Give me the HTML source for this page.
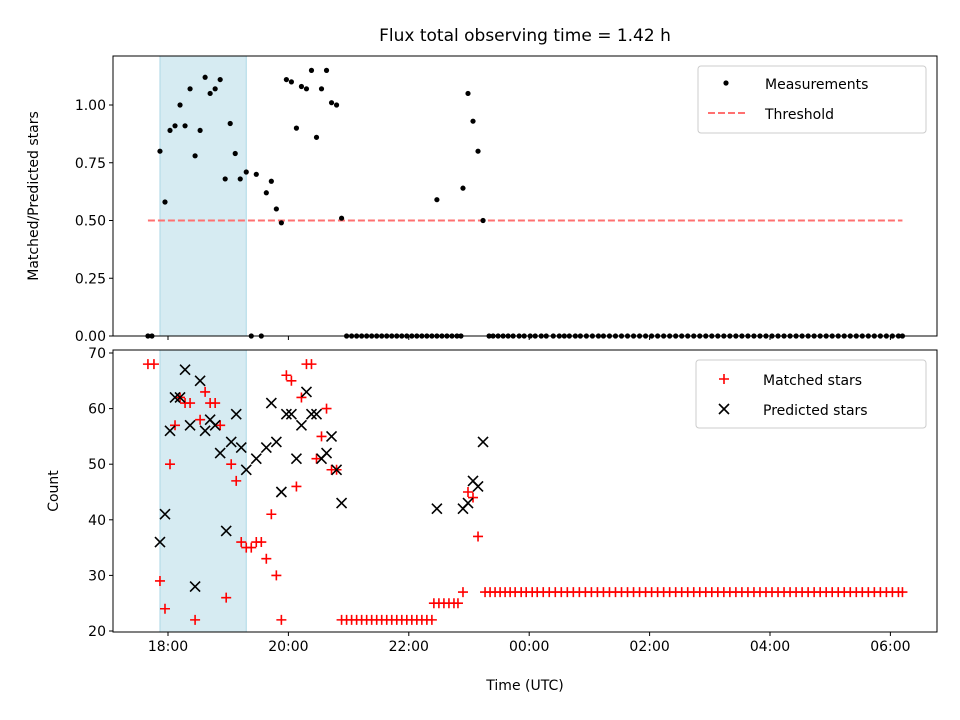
<!DOCTYPE html>
<html><head><meta charset="utf-8">
<style>body{margin:0;background:#fff}svg{display:block;font-family:"DejaVu Sans","Liberation Sans",sans-serif}</style>
</head><body>
<svg id="c" width="960" height="720"></svg>
<script>
// minutes after 18:00 UTC
const measTimes=[-8,-3,2,7,12,17,22,27,32,37,42,47,52,57,62,67,72,78,88,98,103,108,113,118,123,128,133,138,143,148,153,158,163,168,173,268,294,299,304,309,314];
const measRatio=[0.80,0.58,0.89,0.91,1.00,0.91,1.07,0.78,0.89,1.12,1.05,1.07,1.11,0.68,0.92,0.79,0.68,0.71,0.70,0.62,0.67,0.55,0.49,1.11,1.10,0.90,1.08,1.07,1.15,0.86,1.07,1.15,1.01,1.00,0.51,0.59,0.64,1.05,0.93,0.80,0.50];
const zeroTimes=[-20,-16,83,93,178,183,188,193,198,203,208,213,218,223,228,233,238,243,248,253,258,263,268,273,278,283,288,292,320,324,329,334,339,344,350,355,361,366,372,377,384,390,395,400,406,411,417,423,429,434,440,446,452,458,464,470,476,482,488,494,500,506,512,518,524,530,536,542,548,554,560,566,572,578,584,590,596,602,608,614,620,626,632,638,644,650,656,662,668,674,680,686,692,698,704,710,716,722,728,732];
const matchTimes=[-20,-14,-8,-3,2,7,12,17,22,27,32,37,42,47,52,58,63,68,73,78,83,88,93,98,103,108,113,118,123,128,133,138,143,148,153,158,163,168,173,178,183,188,193,198,203,208,213,218,223,228,233,238,243,248,253,258,263,265,270,275,280,285,289,294,299,304,309,316,321,326,331,336,341,346,352,357,363,368,374,380,386,392,398,404,410,416,422,428,434,440,446,452,458,464,470,476,482,488,494,500,506,512,518,524,530,536,542,548,554,560,566,572,578,584,590,596,602,608,614,620,626,632,638,644,650,656,662,668,674,680,686,692,698,704,710,716,722,728,732];
const matchCount=[68,68,29,24,50,57,62,61,61,22,58,63,61,61,57,26,50,47,36,35,35,36,36,33,41,30,22,66,65,46,62,68,68,51,55,60,49,49,22,22,22,22,22,22,22,22,22,22,22,22,22,22,22,22,22,22,22,25,25,25,25,25,25,27,45,44,37,27,27,27,27,27,27,27,27,27,27,27,27,27,27,27,27,27,27,27,27,27,27,27,27,27,27,27,27,27,27,27,27,27,27,27,27,27,27,27,27,27,27,27,27,27,27,27,27,27,27,27,27,27,27,27,27,27,27,27,27,27,27,27,27,27,27,27,27,27,27,27,27,27,27];
const predTimes=[-8,-3,2,7,12,17,22,27,32,37,42,47,52,58,63,68,73,78,88,98,103,108,113,118,123,128,133,138,143,148,153,158,163,168,173,268,294,299,304,309,314];
const predCount=[36,41,56,62,62,67,57,28,65,56,58,57,52,38,54,59,53,49,51,53,61,54,45,59,59,51,57,63,59,59,51,52,55,49,43,42,42,43,47,46,54];
const xTickLabels=["18:00","20:00","22:00","00:00","02:00","04:00","06:00"];
const xTickMins=[0,120,240,360,480,600,720];
const topTicks=[0,0.25,0.5,0.75,1.0];
const botTicks=[20,30,40,50,60,70];

const NS="http://www.w3.org/2000/svg",svg=document.getElementById('c');
function el(t,a,p){const e=document.createElementNS(NS,t);for(const k in a)e.setAttribute(k,a[k]);(p||svg).appendChild(e);return e;}
const L=113,R=937,T1=56,B1=336,T2=350,B2=632;
const xs=m=>168+m*(60.2/60);
const y1=v=>336-v*231;
const y2=v=>631-(v-20)*5.56;

let r=el('rect',{x:xs(-8),y:T1,width:xs(78)-xs(-8),height:B1-T1,fill:'#add8e6','fill-opacity':0.5,stroke:'#add8e6'});

r=el('rect',{x:xs(-8),y:T2,width:xs(78)-xs(-8),height:B2-T2,fill:'#add8e6','fill-opacity':0.5,stroke:'#add8e6'});


let th=el('line',{x1:xs(-20),x2:xs(732),y1:y1(0.5),y2:y1(0.5),stroke:'#ff7070','stroke-width':2,'stroke-dasharray':'7,3'});


const g1=el('g',{});
measTimes.forEach((t,i)=>el('circle',{cx:xs(t),cy:y1(measRatio[i]),r:2.6,fill:'#000'},g1));
zeroTimes.forEach(t=>el('circle',{cx:xs(t),cy:y1(0),r:2.6,fill:'#000'},g1));

const g2=el('g',{stroke:'#f00','stroke-width':1.6});
matchTimes.forEach((t,i)=>{const x=xs(t),y=y2(matchCount[i]);el('path',{d:`M${x-5},${y}H${x+5}M${x},${y-5}V${y+5}`},g2);});
const g3=el('g',{stroke:'#000','stroke-width':1.6});
predTimes.forEach((t,i)=>{const x=xs(t),y=y2(predCount[i]);el('path',{d:`M${x-5},${y-5}L${x+5},${y+5}M${x+5},${y-5}L${x-5},${y+5}`},g3);});

[[T1,B1,'top-axes-frame'],[T2,B2,'bottom-axes-frame']].forEach(([a,b,n])=>{const f=el('rect',{x:L,y:a,width:R-L,height:b-a,fill:'none',stroke:'#000','stroke-width':1});});

function txt(s,a,n){const t=el('text',a);t.textContent=s;return t;}
xTickMins.forEach((m,i)=>{const x=xs(m);
 el('line',{x1:x,x2:x,y1:B1,y2:B1+4,stroke:'#000'});
 el('line',{x1:x,x2:x,y1:B2,y2:B2+4,stroke:'#000'});
 txt(xTickLabels[i],{x:x,y:B2+19,'font-size':14,'text-anchor':'middle'},'x-tick-label');});
topTicks.forEach(v=>{const y=y1(v);el('line',{x1:L-4,x2:L,y1:y,y2:y,stroke:'#000'});
 txt(v.toFixed(2),{x:L-7,y:y+5,'font-size':14,'text-anchor':'end'},'y-tick-label-top');});
botTicks.forEach(v=>{const y=y2(v);el('line',{x1:L-4,x2:L,y1:y,y2:y,stroke:'#000'});
 txt(String(v),{x:L-7,y:y+5,'font-size':14,'text-anchor':'end'},'y-tick-label-bottom');});

txt('Flux total observing time = 1.42 h',{x:525,y:41,'font-size':17,'text-anchor':'middle'},'chart-title');
txt('Time (UTC)',{x:525,y:690,'font-size':14,'text-anchor':'middle'},'x-axis-title');
txt('Matched/Predicted stars',{x:0,y:0,'font-size':14,'text-anchor':'middle',transform:'translate(38,196) rotate(-90)'},'y-axis-title-top');
txt('Count',{x:0,y:0,'font-size':14,'text-anchor':'middle',transform:'translate(58,491) rotate(-90)'},'y-axis-title-bottom');

let lg=el('g',{});
el('rect',{x:698,y:66,width:228,height:67,rx:3,fill:'#fff',stroke:'#ccc'},lg);
el('circle',{cx:726,cy:83,r:2.6,fill:'#000'},lg);
txt('Measurements',{x:765,y:89,'font-size':14},'legend-entry-measurements');
el('line',{x1:708,x2:746,y1:113,y2:113,stroke:'#ff7070','stroke-width':2,'stroke-dasharray':'7,3'},lg);
txt('Threshold',{x:765,y:119,'font-size':14},'legend-entry-threshold');
lg=el('g',{});
el('rect',{x:696,y:360,width:230,height:68,rx:3,fill:'#fff',stroke:'#ccc'},lg);
el('path',{d:'M719,379H729M724,374V384',stroke:'#f00','stroke-width':1.6},lg);
txt('Matched stars',{x:763,y:385,'font-size':14},'legend-entry-matched');
el('path',{d:'M719,404L729,414M729,404L719,414',stroke:'#000','stroke-width':1.6},lg);
txt('Predicted stars',{x:763,y:415,'font-size':14},'legend-entry-predicted');
</script>
</body></html>
